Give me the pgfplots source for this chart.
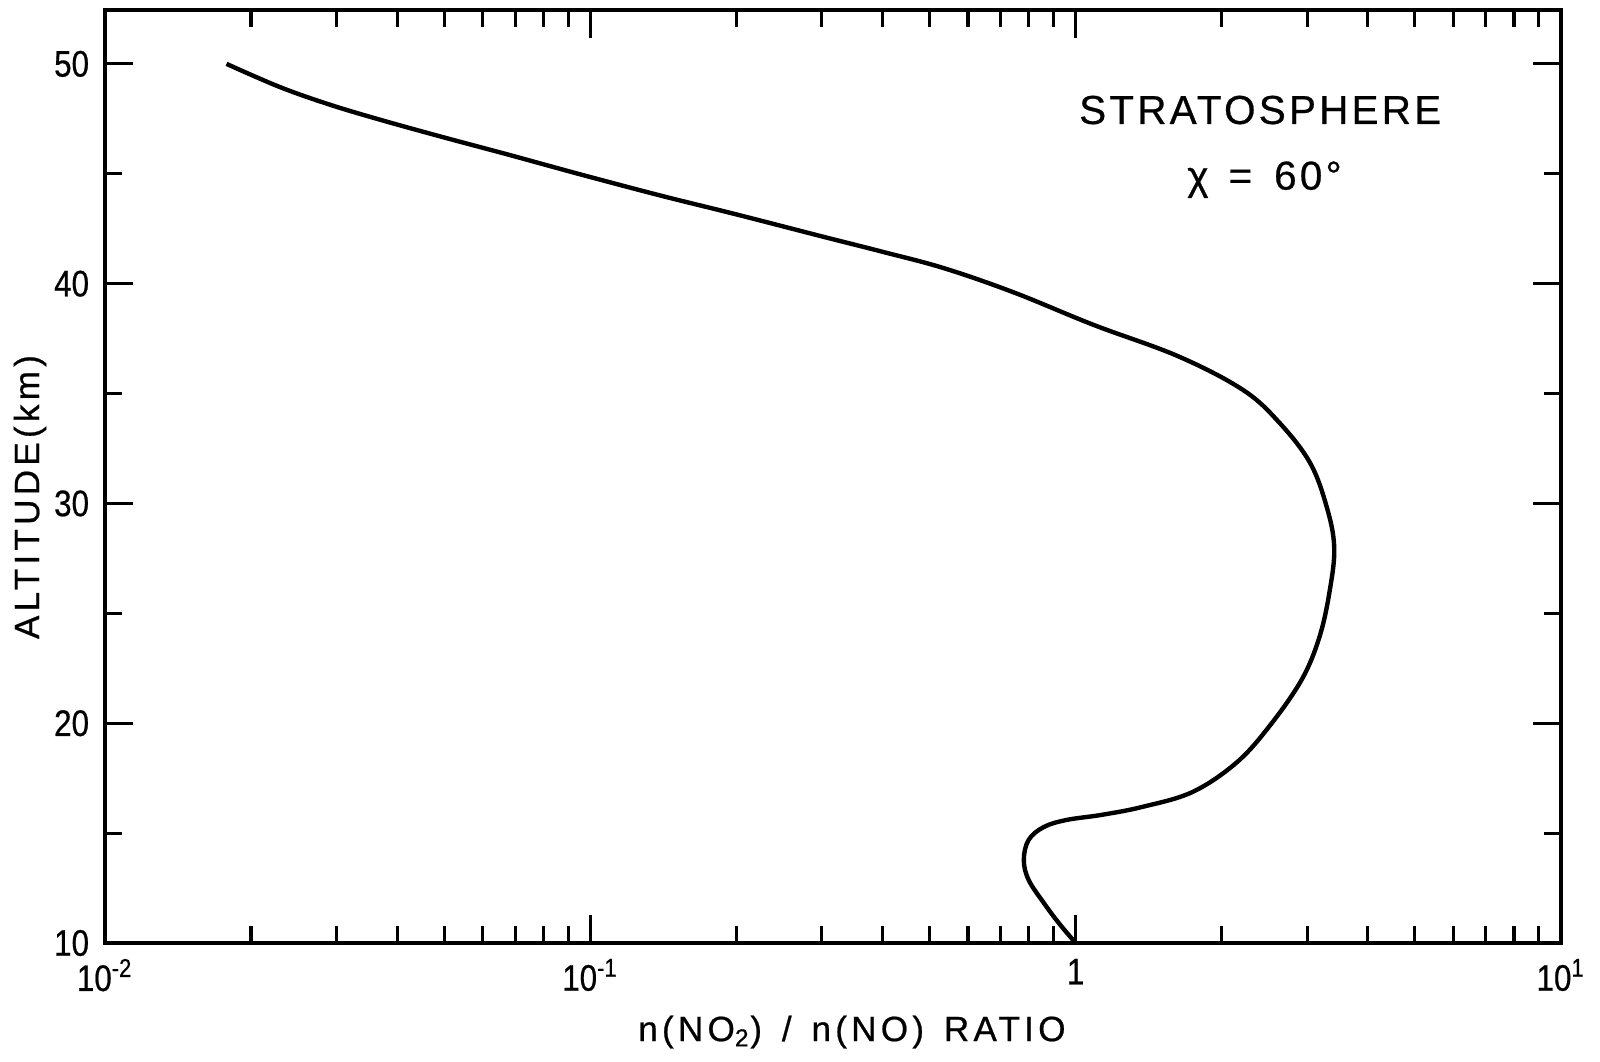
\documentclass[border=0pt]{standalone}
\usepackage{fontspec}
\setmainfont{Liberation Sans}[FakeStretch=0.85,FakeBold=0.6]
\newfontfamily\lett{Liberation Sans}[FakeBold=0.6,LetterSpace=12]
\newfontfamily\ttlfont{Liberation Sans}[FakeBold=0.6,LetterSpace=8]
\usepackage{pgfplots}
\pgfplotsset{compat=1.18}
\begin{document}
\begin{tikzpicture}
\useasboundingbox (-1.05,-1.18) rectangle (14.95,9.43);
\begin{axis}[
  scale only axis,
  width=14.56cm, height=9.33cm,
  xmode=log,
  xmin=0.01, xmax=10,
  ymin=10, ymax=52.45,
  xtick={0.01,0.1,1,10},
  xticklabels={10\textsuperscript{-2},10\textsuperscript{-1},1,10\textsuperscript{1}},
  minor xtick={0.02,0.03,0.04,0.05,0.06,0.07,0.08,0.09,0.2,0.3,0.4,0.5,0.6,0.7,0.8,0.9,2,3,4,5,6,7,8,9},
  ytick={10,20,30,40,50},
  minor ytick={15,25,35,45},
  tick align=inside,
  xtick pos=both, ytick pos=both,
  xticklabel pos=lower, yticklabel pos=left,
  major tick length=0.28cm,
  minor tick length=0.17cm,
  every tick/.style={black, line width=0.9pt},
  axis line style={line width=1.1pt},
  /pgf/number format/assume math mode=true,
  tick label style={font=\fontsize{10.5}{12}\selectfont},
  xticklabel style={yshift=-1pt},
  yticklabel style={xshift=-1pt},
  xlabel={n(NO\textsubscript{2})\, /\, n(NO)\, RATIO},
  ylabel={ALTITUDE(km)},
  xlabel style={at={(axis description cs:0.513,-0.0954)}, anchor=center, font=\lett\fontsize{10}{12}\selectfont},
  ylabel style={at={(axis description cs:-0.0515,0.478)}, anchor=center, font=\lett\fontsize{10}{12}\selectfont},
]
\addplot[black, line width=1.25pt, smooth, tension=0.6] coordinates {
(0.0178,50.0)
(0.0229,48.95)
(0.029,48.15)
(0.037,47.45)
(0.05,46.65)
(0.067,45.9)
(0.081,45.4)
(0.1,44.85)
(0.14,44.0)
(0.2,43.15)
(0.3,42.15)
(0.4,41.45)
(0.536,40.7)
(0.746,39.6)
(1.09,38.12)
(1.625,36.7)
(2.21,35.17)
(2.63,33.67)
(3.04,31.85)
(3.29,29.85)
(3.41,28.02)
(3.34,26.07)
(3.18,23.93)
(2.92,21.97)
(2.50,19.83)
(2.14,18.19)
(1.74,16.87)
(1.37,16.19)
(1.13,15.83)
(0.958,15.6)
(0.86,15.28)
(0.80,14.69)
(0.782,13.78)
(0.80,12.87)
(0.86,11.82)
(0.923,10.91)
(1.0,10.0)
};
\node[font=\ttlfont\fontsize{11.5}{14}\selectfont] at (axis cs:2.45,44.73) {χ\hspace{0.2cm}=\hspace{0.22cm}60°};
\node[font=\ttlfont\fontsize{11.5}{14}\selectfont] at (axis cs:2.40,47.9) {STRATOSPHERE};
\end{axis}
\end{tikzpicture}
\end{document}
